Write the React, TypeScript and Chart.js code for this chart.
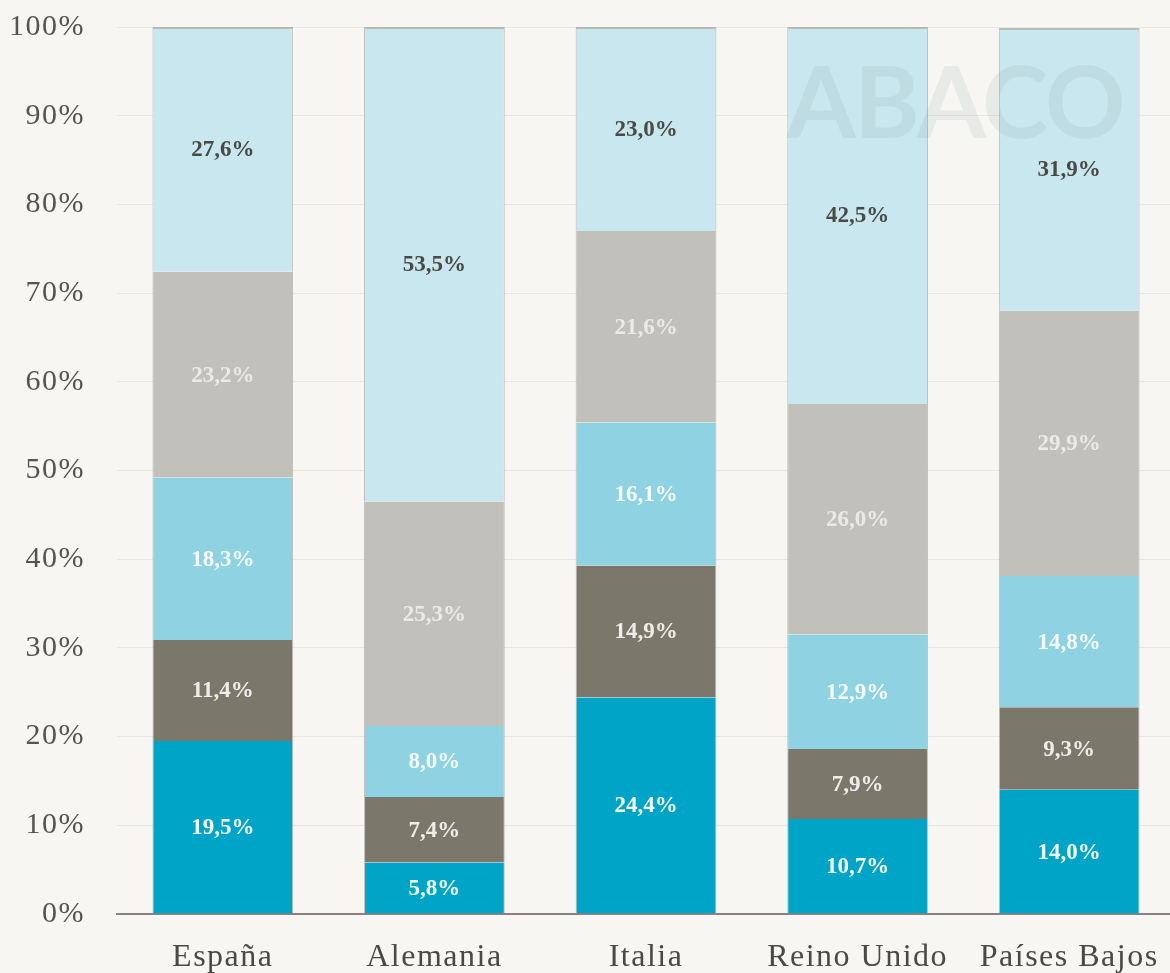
import React, { useEffect, useRef } from 'react';
import { Chart, registerables } from 'chart.js';

Chart.register(...registerables);

const categories = ['España', 'Alemania', 'Italia', 'Reino Unido', 'Países Bajos'];
const serie1 = [19.5, 5.8, 24.4, 10.7, 14.0];
const serie2 = [11.4, 7.4, 14.9, 7.9, 9.3];
const serie3 = [18.3, 8.0, 16.1, 12.9, 14.8];
const serie4 = [23.2, 25.3, 21.6, 26.0, 29.9];
const serie5 = [27.6, 53.5, 23.0, 42.5, 31.9];
const seriesNames = ['Serie 1', 'Serie 2', 'Serie 3', 'Serie 4', 'Serie 5'];
const yMin = 0;
const yMax = 100;
const yStep = 10;
const watermark = 'ABACO';

const colors = ['#00a4c6', '#7b786b', '#8fd2e2', '#c2c0bb', '#c9e7ef'];
const labelColors = ['#f4fbfd', '#eeede9', '#f6fbfc', '#ebeae6', '#4a4a44'];
const BG = '#f7f6f3';

const fmt = (v: number) => v.toFixed(1).replace('.', ',') + '%';

const setSpacing = (chart: any, px: string) => {
  try { (chart.ctx as any).letterSpacing = px; } catch (e) {}
};

const bgPlugin = {
  id: 'bgPlugin',
  beforeUpdate(chart: any) { setSpacing(chart, '1.5px'); },
  beforeDraw(chart: any) {
    const ctx = chart.ctx;
    ctx.save();
    ctx.fillStyle = BG;
    ctx.fillRect(0, 0, chart.width, chart.height);
    ctx.restore();
    setSpacing(chart, '1.5px');
  },
};

const labelPlugin = {
  id: 'labelPlugin',
  afterDatasetsDraw(chart: any) {
    const ctx = chart.ctx;
    ctx.save();
    ctx.letterSpacing = '0px';
    ctx.font = 'bold 23px "Liberation Serif", serif';
    ctx.textAlign = 'center';
    ctx.textBaseline = 'middle';
    chart.data.datasets.forEach((ds: any, di: number) => {
      const meta = chart.getDatasetMeta(di);
      meta.data.forEach((el: any, i: number) => {
        const v = ds.data[i];
        const cy = (el.y + el.base) / 2;
        ctx.fillStyle = labelColors[di];
        ctx.fillText(fmt(v), el.x, cy + 1);
      });
    });
    // watermark
    ctx.letterSpacing = '-2px';
    ctx.font = '700 100px Lato, "Open Sans", sans-serif';
    ctx.fillStyle = 'rgba(110,125,125,0.1)';
    ctx.textAlign = 'center';
    ctx.textBaseline = 'alphabetic';
    ctx.fillText(watermark, 955, 138);
    ctx.restore();
    setSpacing(chart, '1.5px');
  },
};

export default function App() {
  const ref = useRef<HTMLCanvasElement | null>(null);

  useEffect(() => {
    document.body.style.background = BG;
    const canvas = ref.current;
    if (!canvas) return;
    const datasetsData = [serie1, serie2, serie3, serie4, serie5];
    const chart = new Chart(canvas, {
      type: 'bar',
      data: {
        labels: categories,
        datasets: datasetsData.map((d, i) => ({
          label: seriesNames[i],
          data: d,
          backgroundColor: colors[i],
          borderColor: 'rgba(140,140,135,0.55)',
          borderWidth: { top: i === 4 ? 2 : 0, left: 1, right: 1, bottom: 0 },
          borderSkipped: false,
          barPercentage: 0.665,
          categoryPercentage: 1,
        })),
      },
      options: {
        responsive: false,
        animation: false,
        devicePixelRatio: 1,
        layout: { padding: { top: 27, right: 0, bottom: 0, left: 0 } },
        plugins: {
          legend: { display: false },
          tooltip: { enabled: false },
          title: { display: false },
        },
        scales: {
          x: {
            stacked: true,
            offset: true,
            grid: {
              display: false,
              drawTicks: true,
              tickLength: 24,
              tickColor: 'rgba(0,0,0,0)',
            },
            border: { display: true, color: '#8f8080', width: 2 },
            ticks: {
              color: '#4a4a44',
              font: { family: '"Liberation Serif", serif', size: 32 },
              padding: 0,
              maxRotation: 0,
              autoSkip: false,
            },
            afterFit(scale: any) { scale.height = 59; },
          },
          y: {
            stacked: true,
            min: yMin,
            max: yMax,
            grid: {
              color: '#e9e7e2',
              lineWidth: 1,
              drawTicks: true,
              tickLength: 32,
              tickColor: 'rgba(0,0,0,0)',
            },
            border: { display: false },
            ticks: {
              stepSize: yStep,
              color: '#55544e',
              font: { family: '"Liberation Serif", serif', size: 30 },
              padding: 0,
              callback: (v: any) => v + '%',
            },
            afterFit(scale: any) { scale.width = 117; },
          },
        },
      },
      plugins: [bgPlugin, labelPlugin],
    });
    return () => chart.destroy();
  }, []);

  return (
    <div style={{ position: 'fixed', left: 0, top: 0, width: 1175, height: 973, background: BG }}>
      <canvas ref={ref} width={1175} height={973} style={{ display: 'block' }} />
    </div>
  );
}
